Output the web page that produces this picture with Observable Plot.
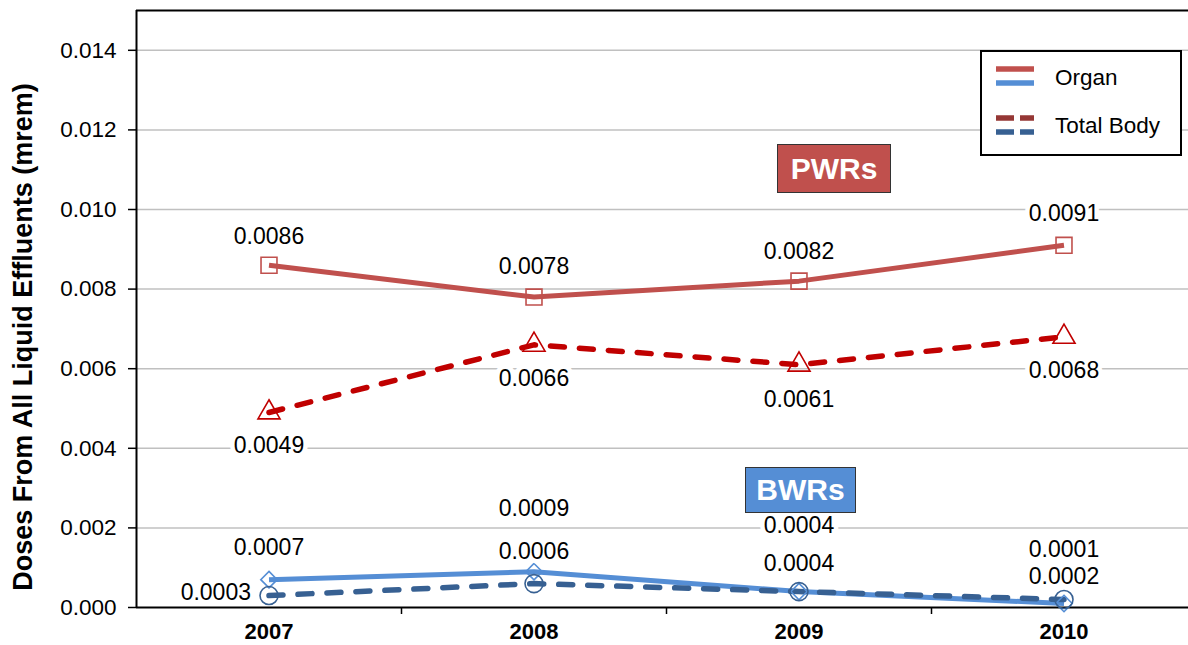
<!DOCTYPE html>
<html><head><meta charset="utf-8">
<script src="https://cdn.jsdelivr.net/npm/d3@7"></script>
<script src="https://cdn.jsdelivr.net/npm/@observablehq/plot@0.6"></script>
<style>
body{margin:0;background:#fff;font-family:"Liberation Sans",Arial,sans-serif;}
#wrap{position:relative;width:1188px;height:645px;overflow:hidden;}
#wrap svg.plot{display:block;}
.ytitle{position:absolute;left:23px;top:337px;transform:translate(-50%,-50%) rotate(-90deg);white-space:nowrap;font-weight:bold;font-size:27px;color:#000;}
.tag{position:absolute;box-sizing:border-box;border:1px solid #333;color:#fff;font-weight:bold;font-size:30px;display:flex;align-items:center;justify-content:center;}
.legend{position:absolute;left:980px;top:50px;width:202px;height:106px;box-sizing:border-box;border:2px solid #000;background:#fff;}
.legend .lab{position:absolute;left:73px;font-size:22.5px;color:#000;transform:translateY(-50%);white-space:nowrap;}
</style></head><body><div id="wrap"></div>
<script>
// ---- data ----
const years = [2007, 2008, 2009, 2010];
const pwrOrgan = [0.0086, 0.0078, 0.0082, 0.0091];
const pwrTotalBody = [0.0049, 0.0066, 0.0061, 0.0068];
const bwrOrgan = [0.0007, 0.0009, 0.0004, 0.0001];
const bwrTotalBody = [0.0003, 0.0006, 0.0004, 0.0002];
const yTicks = [0, 0.002, 0.004, 0.006, 0.008, 0.010, 0.012, 0.014];
const yMax = 0.015;
const legendLabels = ["Organ", "Total Body"];
const groupLabels = ["PWRs", "BWRs"];
const yTitle = "Doses From All Liquid Effluents (mrem)";

// ---- styling ----
const FONT = "Liberation Sans, Arial, sans-serif";
const series = [
  {values: pwrOrgan, color: "#c0504d", dash: null, width: 5, symbol: "square", r: 9, labelDy: [-29, -30, -30, -32], labelDx: [0,0,0,0]},
  {values: pwrTotalBody, color: "#c00000", dash: "14,15", width: 5.5, symbol: "triangle", r: 8.2, labelDy: [33, 34, 35, 34], labelDx: [0,0,0,0]},
  {values: bwrOrgan, color: "#558ed5", dash: null, width: 5, symbol: "diamond2", r: 7.4, labelDy: [-32, -63, -66, -54], labelDx: [0,0,0,0]},
  {values: bwrTotalBody, color: "#376092", dash: "14,15", width: 5.5, symbol: "circle", r: 9, labelDy: [-3, -32, -28, -23], labelDx: [-18,0,0,0], anchor0: "end"}
];

const x0 = years[0] - 0.5, x1 = years[years.length - 1] + 0.5;
const fmt = d3.format(".4f");

const marks = [];
// gridlines
marks.push(Plot.ruleY(yTicks.filter(v => v > 0), {stroke: "#c0c0c0", strokeWidth: 1.5}));
// frame lines
marks.push(Plot.ruleY([yMax], {stroke: "#000", strokeWidth: 2}));
marks.push(Plot.ruleX([x0], {stroke: "#000", strokeWidth: 2}));
// axes
marks.push(Plot.axisY(yTicks, {tickSize: 8, tickPadding: 12, fontSize: 22.5, tickFormat: d3.format(".3f"), label: null, strokeWidth: 1.5}));
marks.push(Plot.axisX(years, {tickSize: 0, tickPadding: 16, fontSize: 22, fontWeight: "bold", tickFormat: d => String(d), label: null}));
marks.push(Plot.axisX(years.slice(1).map(y => y - 0.5), {tickSize: 7, tickFormat: () => "", label: null, strokeWidth: 1.5}));
marks.push(Plot.ruleY([0], {stroke: "#000", strokeWidth: 2}));

// lines and markers
for (const s of series) {
  const data = years.map((y, i) => ({x: y, y: s.values[i], i}));
  marks.push(Plot.line(data, {x: "x", y: "y", stroke: s.color, strokeWidth: s.width,
    strokeDasharray: s.dash || undefined, strokeLinecap: s.dash ? "round" : "butt", strokeLinejoin: "round"}));
}
for (const s of series) {
  const data = years.map((y, i) => ({x: y, y: s.values[i], i}));
  marks.push(Plot.dot(data, {x: "x", y: "y", symbol: s.symbol, r: s.r, stroke: s.color, strokeWidth: 1.6, fill: "none"}));
}
// data labels (white halo then text)
for (const s of series) {
  years.forEach((y, i) => {
    const d = [{x: y, y: s.values[i], t: fmt(s.values[i])}];
    const anchor = (i === 0 && s.anchor0) ? s.anchor0 : "middle";
    const common = {x: "x", y: "y", text: "t", dy: s.labelDy[i], dx: s.labelDx[i], textAnchor: anchor, fontSize: 23, fontFamily: FONT};
    marks.push(Plot.text(d, {...common, fill: "white", stroke: "white", strokeWidth: 9}));
    marks.push(Plot.text(d, {...common, fill: "#000"}));
  });
}

const chart = Plot.plot({
  width: 1188, height: 645,
  marginLeft: 136, marginTop: 10, marginBottom: 38, marginRight: 0,
  style: {fontFamily: FONT, color: "#000", background: "white", overflow: "hidden"},
  x: {type: "linear", domain: [x0, x1], range: [136, 1196]},
  y: {domain: [0, yMax]},
  marks
});
const wrap = document.getElementById("wrap");
wrap.appendChild(chart);

// y title
const yt = document.createElement("div");
yt.className = "ytitle"; yt.textContent = yTitle; wrap.appendChild(yt);

// group tags
const tags = [
  {text: groupLabels[0], bg: "#c0504d", left: 777, top: 144, w: 114, h: 49},
  {text: groupLabels[1], bg: "#558ed5", left: 745, top: 467, w: 111, h: 46}
];
for (const t of tags) {
  const el = document.createElement("div");
  el.className = "tag"; el.textContent = t.text;
  Object.assign(el.style, {left: t.left + "px", top: t.top + "px", width: t.w + "px", height: t.h + "px", background: t.bg});
  wrap.appendChild(el);
}

// legend
const lg = document.createElement("div");
lg.className = "legend";
lg.innerHTML = `<svg width="198" height="102" style="position:absolute;left:0;top:0">
  <line x1="14" x2="52" y1="17" y2="17" stroke="#c0504d" stroke-width="5.5"/>
  <line x1="14" x2="52" y1="31" y2="31" stroke="#558ed5" stroke-width="5.5"/>
  <line x1="14" x2="52" y1="66" y2="66" stroke="#953735" stroke-width="5.5" stroke-dasharray="18,6"/>
  <line x1="14" x2="52" y1="80" y2="80" stroke="#376092" stroke-width="5.5" stroke-dasharray="18,6"/>
</svg>
<div class="lab" style="top:26px">${legendLabels[0]}</div>
<div class="lab" style="top:74px">${legendLabels[1]}</div>`;
wrap.appendChild(lg);
</script>
</body></html>
